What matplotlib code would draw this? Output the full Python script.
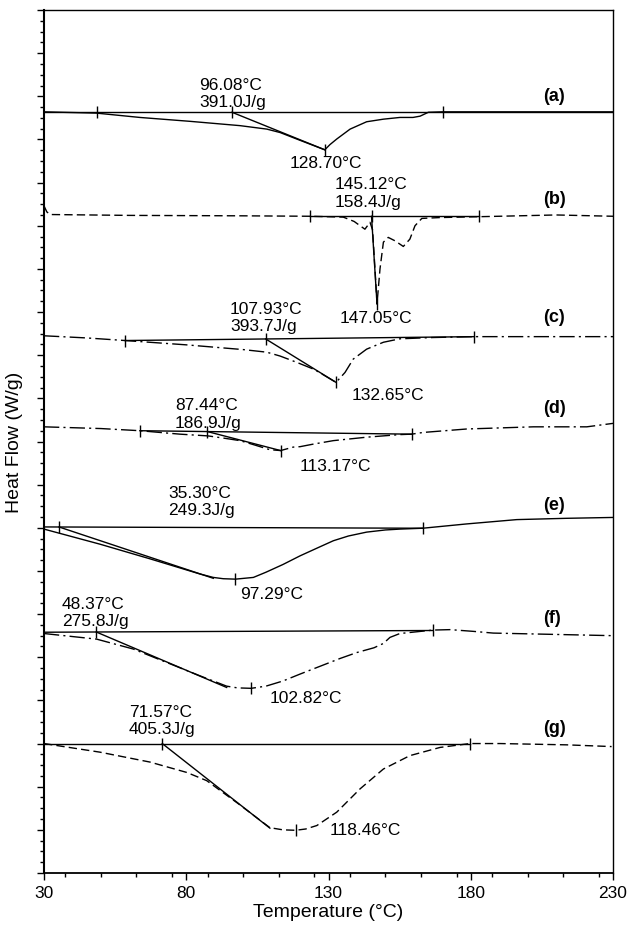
import numpy as np
import matplotlib.pyplot as plt
from matplotlib.ticker import MultipleLocator

plt.rcParams['font.family'] = ['Liberation Sans', 'DejaVu Sans']

# DSC curves (temperature in C, heat flow in arbitrary stacked units)
a_T = [30, 48.5, 63.7, 81.3, 98.9, 108.3, 113, 120, 128.7, 130.5, 132.9, 137.6, 143.4, 149.3, 155.1, 159.7, 162.2, 165.1, 170, 230]
a_y = [17.64, 17.61, 17.51, 17.42, 17.32, 17.24, 17.16, 16.98, 16.76, 16.88, 17.01, 17.24, 17.41, 17.47, 17.51, 17.51, 17.54, 17.63, 17.64, 17.64]

b_T = [30, 31, 32.2, 60, 100, 123.5, 135.2, 139, 142.8, 144.6, 145.5, 146.9, 147.05, 148.1, 149.3, 151, 153.4, 156.3, 158.6, 160.4, 162.8, 169.2, 190, 210, 230]
b_y = [15.46, 15.32, 15.26, 15.24, 15.23, 15.22, 15.20, 15.10, 14.92, 15.08, 14.90, 13.38, 13.19, 14.00, 14.62, 14.73, 14.65, 14.52, 14.69, 15.00, 15.17, 15.19, 15.22, 15.25, 15.22]

c_T = [30, 45, 58.5, 80, 100, 108.3, 113, 119, 125, 132.65, 135.8, 138.7, 143.4, 149.3, 155.1, 166.8, 181.3, 200, 230]
c_y = [12.45, 12.40, 12.34, 12.24, 12.13, 12.07, 11.98, 11.83, 11.67, 11.37, 11.60, 11.91, 12.14, 12.30, 12.38, 12.41, 12.43, 12.43, 12.43]

d_T = [30, 50, 63.7, 77.8, 87.6, 93, 98.9, 104, 109.4, 113.17, 117.6, 120, 124.7, 131.7, 143.4, 155.1, 159.2, 163.3, 178.6, 202, 220.8, 230]
d_y = [10.34, 10.30, 10.25, 10.17, 10.13, 10.08, 10.02, 9.92, 9.81, 9.79, 9.87, 9.88, 9.94, 10.02, 10.10, 10.16, 10.17, 10.21, 10.29, 10.34, 10.34, 10.42]

e_T = [30, 49.7, 67.3, 84.8, 89.5, 93, 97.29, 103.6, 108, 114, 120, 127, 131.7, 137, 143.4, 150, 155.1, 163.1, 178.6, 196.2, 213.7, 230]
e_y = [7.97, 7.62, 7.28, 6.93, 6.85, 6.82, 6.81, 6.85, 6.97, 7.15, 7.35, 7.56, 7.70, 7.81, 7.90, 7.95, 7.97, 7.99, 8.09, 8.19, 8.22, 8.24]

f_T = [30, 48.5, 61.4, 73.1, 84.8, 94.2, 98, 102.82, 108, 114, 120, 127, 134, 140, 146, 149.3, 151.6, 155.1, 166.8, 172.7, 180.9, 187.9, 230]
f_y = [5.55, 5.42, 5.19, 4.88, 4.57, 4.33, 4.29, 4.28, 4.33, 4.45, 4.61, 4.79, 4.97, 5.11, 5.22, 5.32, 5.46, 5.55, 5.63, 5.64, 5.60, 5.56, 5.50]

g_T = [30, 49.7, 67.3, 80.2, 87.2, 98, 109.4, 114, 118.46, 122, 125.9, 132.9, 141.1, 149.3, 158.6, 169.2, 179.7, 190.3, 213.7, 229.5]
g_y = [3.00, 2.80, 2.57, 2.33, 2.14, 1.62, 1.05, 1.00, 0.99, 1.02, 1.10, 1.41, 1.95, 2.41, 2.72, 2.91, 3.00, 3.00, 2.97, 2.93]

names = ['(a)', '(b)', '(c)', '(d)', '(e)', '(f)', '(g)']
onset_T = [96.08, 145.12, 107.93, 87.44, 35.30, 48.37, 71.57]
enthalpy = [391.0, 158.4, 393.7, 186.9, 249.3, 275.8, 405.3]
peak_T = [128.70, 147.05, 132.65, 113.17, 97.29, 102.82, 118.46]
peak_y = [16.76, 13.19, 11.37, 9.79, 6.81, 4.28, 0.99]

# baseline (integration limits) and tangent end points
base_T1 = [30, 123.5, 58.5, 63.7, 30, 30, 30]
base_y1 = [17.63, 15.22, 12.34, 10.25, 8.02, 5.58, 3.00]
base_T2 = [230, 183.0, 181.3, 159.2, 163.1, 166.8, 179.7]
base_y2 = [17.63, 15.22, 12.43, 10.17, 7.99, 5.62, 3.00]
limit_T = [[48.5, 170.1], [123.5, 183.0], [58.5, 181.3], [63.7, 159.2], [163.1], [166.8], [179.7]]
tan_T2 = [128.7, 147.05, 132.65, 113.17, 89.5, 94.2, 109.4]
tan_y2 = [16.76, 13.19, 11.37, 9.79, 6.83, 4.30, 1.04]

curves = [(a_T, a_y), (b_T, b_y), (c_T, c_y), (d_T, d_y), (e_T, e_y), (f_T, f_y), (g_T, g_y)]
dash = [None, (6, 3), (11, 3, 1.5, 3), (11, 3, 1.5, 3), None, (11, 3, 1.5, 3), (6, 3)]

# label placement (T, y)
onset_lab = [(84.5, 18.07), (132.3, 15.77), (95.4, 12.88), (76.0, 10.65), (73.6, 8.62), (36.3, 6.05), (59.9, 3.55)]
peak_lab = [(116.5, 16.47), (134.0, 12.87), (138.3, 11.09), (120.0, 9.44), (98.9, 6.48), (109.4, 4.07), (130.5, 1.01)]
name_lab = [18.01, 15.62, 12.89, 10.78, 8.55, 5.91, 3.38]

fig = plt.figure(figsize=(6.3, 9.29), dpi=100)
ax = fig.add_axes([44 / 630, 55 / 929, 569 / 630, 863 / 929])

for i in range(7):
    T, y = curves[i]
    line, = ax.plot(T, y, color='k', lw=1.0)
    if dash[i] is not None:
        line.set_dashes(dash[i])
    # baseline
    ax.plot([base_T1[i], base_T2[i]], [base_y1[i], base_y2[i]], color='k', lw=1.0)
    # tangent from onset
    yo = np.interp(onset_T[i], [base_T1[i], base_T2[i]], [base_y1[i], base_y2[i]])
    ax.plot([onset_T[i], tan_T2[i]], [yo, tan_y2[i]], color='k', lw=1.0)
    # cross marks
    xs = [onset_T[i], peak_T[i]] + limit_T[i]
    ys = [yo, peak_y[i]] + list(np.interp(limit_T[i], [base_T1[i], base_T2[i]], [base_y1[i], base_y2[i]]))
    ax.plot(xs, ys, ls='none', marker='|', ms=9, mew=1.0, color='k')
    # text
    ax.text(onset_lab[i][0], onset_lab[i][1], '%.2f°C\n%.1fJ/g' % (onset_T[i], enthalpy[i]),
            ha='left', va='center', fontsize=12.5, linespacing=1.2)
    ax.text(peak_lab[i][0], peak_lab[i][1], '%.2f°C' % peak_T[i], ha='left', va='center', fontsize=12.5)
    ax.text(205.5, name_lab[i], names[i], ha='left', va='center', fontsize=13, fontweight='bold')

ax.set_xlim(30, 230)
ax.set_ylim(0, 20)
ax.set_xticks([30, 80, 130, 180, 230])
ax.xaxis.set_minor_locator(MultipleLocator(12.5))
ax.yaxis.set_major_locator(MultipleLocator(1))
ax.yaxis.set_minor_locator(MultipleLocator(0.25))
ax.set_yticklabels([])
ax.tick_params(which='major', length=5, width=1.0, labelsize=12.5, pad=4)
ax.tick_params(which='minor', length=3, width=1.0)
for s in ax.spines.values():
    s.set_linewidth(1.0)
ax.spines['left'].set_linewidth(1.5)
ax.spines['bottom'].set_linewidth(1.3)
ax.set_xlabel('Temperature (°C)', fontsize=14, labelpad=2)
ax.set_ylabel('Heat Flow (W/g)', fontsize=14, labelpad=6)

fig.savefig('out.png', dpi=100)
